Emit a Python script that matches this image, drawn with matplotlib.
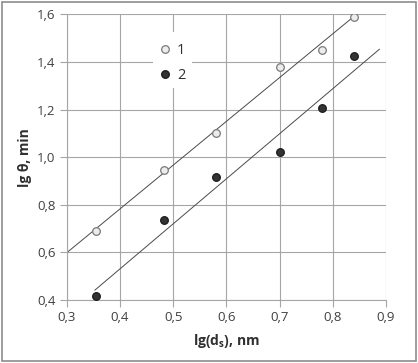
import matplotlib.pyplot as plt
import numpy as np
from matplotlib.patches import Rectangle

plt.rcParams['font.family'] = ['Open Sans', 'DejaVu Sans']

# data
x = [0.355, 0.483, 0.58, 0.70, 0.78, 0.84]
y1 = [0.69, 0.945, 1.10, 1.38, 1.45, 1.59]
y2 = [0.415, 0.735, 0.915, 1.02, 1.205, 1.425]
labels = ['1', '2']
xticks = [0.3, 0.4, 0.5, 0.6, 0.7, 0.8, 0.9]
yticks = [0.4, 0.6, 0.8, 1.0, 1.2, 1.4, 1.6]
# extent of the trend lines
fit1_x = [0.3, 0.8425]
fit2_x = [0.353, 0.8875]

fig = plt.figure(figsize=(4.18, 3.63), dpi=100)
ax = fig.add_axes([66.7/418, 1 - 300/363, (386 - 66.7)/418, (300 - 14.3)/363])

grid_c = '#a6a6a6'
for v in xticks:
    ax.axvline(v, color=grid_c, lw=0.8, zorder=0)
for v in yticks:
    ax.axhline(v, color=grid_c, lw=0.8, zorder=0)

# linear trend lines
for ys, xr in ((y1, fit1_x), (y2, fit2_x)):
    k, b = np.polyfit(x, ys, 1)
    xr = np.array(xr)
    ax.plot(xr, k*xr + b, color='#4a4a4a', lw=0.7, zorder=2)

ax.plot(x, y1, 'o', ms=5.5, mfc='#ececec', mec='#7a7a7a', mew=0.9,
        zorder=3, label=labels[0])
ax.plot(x, y2, 'o', ms=5.5, mfc='#333333', mec='#1a1a1a', mew=0.9,
        zorder=3, label=labels[1])

ax.set_xlim(0.3, 0.9)
ax.set_ylim(0.4, 1.6)
ax.set_xticks(xticks)
ax.set_yticks(yticks)
ax.set_xticklabels([f'{v:.1f}'.replace('.', ',') for v in xticks])
ax.set_yticklabels([f'{v:.1f}'.replace('.', ',') for v in yticks])
ax.tick_params(length=5, color=grid_c, labelsize=9.5, labelcolor='#404040',
               width=0.8, pad=3)
for s in ('top', 'right'):
    ax.spines[s].set_visible(False)
for s in ('left', 'bottom'):
    ax.spines[s].set_color(grid_c)
    ax.spines[s].set_linewidth(0.8)

ax.set_xlabel(r'lg(d$_\mathregular{s}$), nm', fontsize=10, fontweight='bold',
              color='#303030', labelpad=6)
ax.set_ylabel('lg θ, min', fontsize=10, fontweight='bold', color='#303030',
              labelpad=4)

# white legend background box
ax.add_patch(Rectangle((0.27, 0.742), 0.122, 0.196, transform=ax.transAxes,
                       facecolor='white', edgecolor='none', zorder=1))
leg = ax.legend(loc='upper left', bbox_to_anchor=(0.27, 0.917), frameon=False,
                fontsize=10.5, handletextpad=0.3, labelspacing=0.7,
                borderpad=0.35, handlelength=1.0, borderaxespad=0)
for t in leg.get_texts():
    t.set_color('#303030')

fig.patches.append(Rectangle((2/418, 2/363), 1 - 4/418, 1 - 4/363,
                             transform=fig.transFigure, fill=False,
                             edgecolor='#8c8c8c', lw=1.2))

fig.savefig('out.png', dpi=100)
